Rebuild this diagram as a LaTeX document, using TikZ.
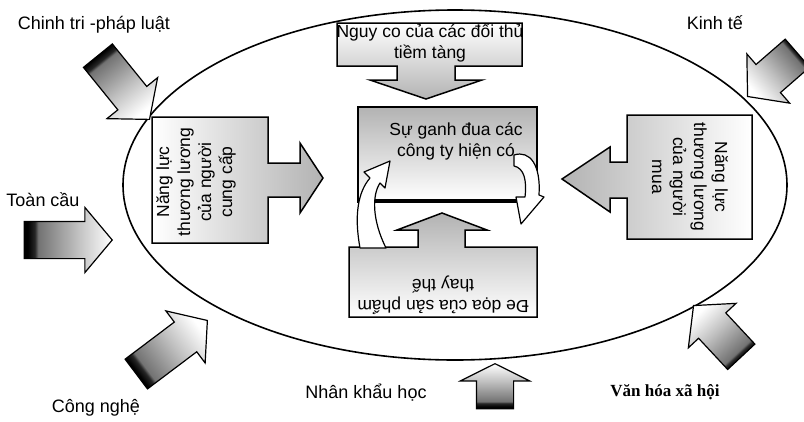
\documentclass[tikz,border=0pt]{standalone}
\usepackage{fontspec}
\setmainfont{Liberation Sans}
\newfontfamily\serifbold{Liberation Serif}
\usetikzlibrary{shapes.arrows, shapes.geometric, positioning}
\pgfdeclarehorizontalshading{extshade}{100bp}{color(0bp)=(black); color(27bp)=(black); color(31bp)=(black!85); color(33bp)=(black!55); color(55bp)=(black!25); color(75bp)=(white); color(100bp)=(white)}

\begin{document}
\begin{tikzpicture}[
        x=1pt, y=-1pt,
        every node/.style={font=\fontsize{18}{21}\selectfont},
        box/.style={inner sep=0pt, align=center, font=\fontsize{17.5}{21}\selectfont},
        ext/.style 2 args={single arrow, draw, line width=1.2pt, inner xsep=0pt, inner ysep=18pt,
            single arrow head extend=14pt, single arrow tip angle=100,
            minimum height=#1, rotate=#2, shading=extshade, shading angle=#2, anchor=tip},
        callout/.style={draw, line width=1.5pt, line join=miter},
        turn/.style={draw, line width=1.2pt, fill=white, line join=round},
    ]

    \useasboundingbox (0,0) rectangle (804,421);

    %% Industry
    \node[ellipse, draw, line width=1.6pt, minimum width=664pt, minimum height=350pt, inner sep=0pt] (env) at (455,185) {};

    %% Five forces
    \draw[callout, left color=white, right color=black!30]
        (152,117) -- (268,117) -- (268,163) -- (300,163) -- (300,143) -- (323,178)
        -- (300,213) -- (300,197) -- (268,197) -- (268,243) -- (152,243) -- cycle;
    \draw[callout, left color=black!30, right color=white]
        (627,115) -- (752,115) -- (752,239) -- (627,239) -- (627,198) -- (610,198)
        -- (610,212) -- (562,179) -- (610,147) -- (610,162) -- (627,162) -- cycle;
    \draw[callout, top color=white, bottom color=black!30]
        (337,23) -- (522,23) -- (522,66) -- (455,66) -- (455,80) -- (482,80) -- (426,99)
        -- (370,80) -- (397,80) -- (397,66) -- (337,66) -- cycle;
    \draw[callout, top color=black!30, bottom color=white]
        (349,247) -- (418,247) -- (418,230) -- (397,230) -- (442,213) -- (487,230)
        -- (465,230) -- (465,247) -- (537,247) -- (537,317) -- (349,317) -- cycle;

    \node[draw, line width=1.5pt, minimum width=179pt, minimum height=93pt, inner sep=0pt,
        top color=black!30, bottom color=white] (rivalbox) at (447.5,153.5) {};
    \draw[line width=3.5pt] (rivalbox.south west) -- (rivalbox.south east);

    %% Rivalry cycle
    \draw[turn] (360,248) .. controls (354,215) and (358,192) .. (370,178) -- (364,172)
        -- (390,161) -- (385,188) -- (380,183) .. controls (372,195) and (372,220) .. (386,248) -- cycle;
    \draw[turn] (514,155) .. controls (530,150) and (541,165) .. (539,195) -- (544,197)
        -- (521,224) -- (516,197) -- (525,197) .. controls (527,180) and (524,168) .. (514,166) -- cycle;

    %% Texts
    \node[box, rotate=90] (sup) at (196,182) {Năng lực\\thương lương\\của người\\cung cấp};
    \node[box, rotate=-90] (buyer) at (690,177) {Năng lực\\thương lương\\của người\\mua};
    \node[box] (entrant) at (430,43) {Nguy co của các đối thủ\\tiềm tàng};
    \node[box] (rival) at (456,141) {Sự ganh đua các\\công ty hiện có};
    \node[box, rotate=180] (subst) at (443,295) {Đe dọa của sản phẩm\\thay thế};

    %% External forces
    \node[ext={82}{-51}] (politarr) at (150,120) {};
    \node[ext={66}{-139}] (econarr) at (747,97) {};
    \node[ext={88}{0}] (globarr) at (113,240) {};
    \node[ext={89}{37}] (techarr) at (208,320) {};
    \node[ext={45}{90}, single arrow head extend=16pt, single arrow tip angle=127] (demogarr) at (495,363) {};
    \node[ext={70}{133}] (cultarr) at (693,305) {};

    \node (polit) at (94,25) {Chinh tri -pháp luật};
    \node (econ) at (715,23) {Kinh tế};
    \node (glob) at (43,200) {Toàn cầu};
    \node (tech) at (96,408) {Công nghệ};
    \node (demog) at (366,393) {Nhân khẩu học};
    \node[font=\serifbold\bfseries\fontsize{17}{21}\selectfont] (cult) at (665,392) {Văn hóa xã hội};

\end{tikzpicture}
\end{document}
